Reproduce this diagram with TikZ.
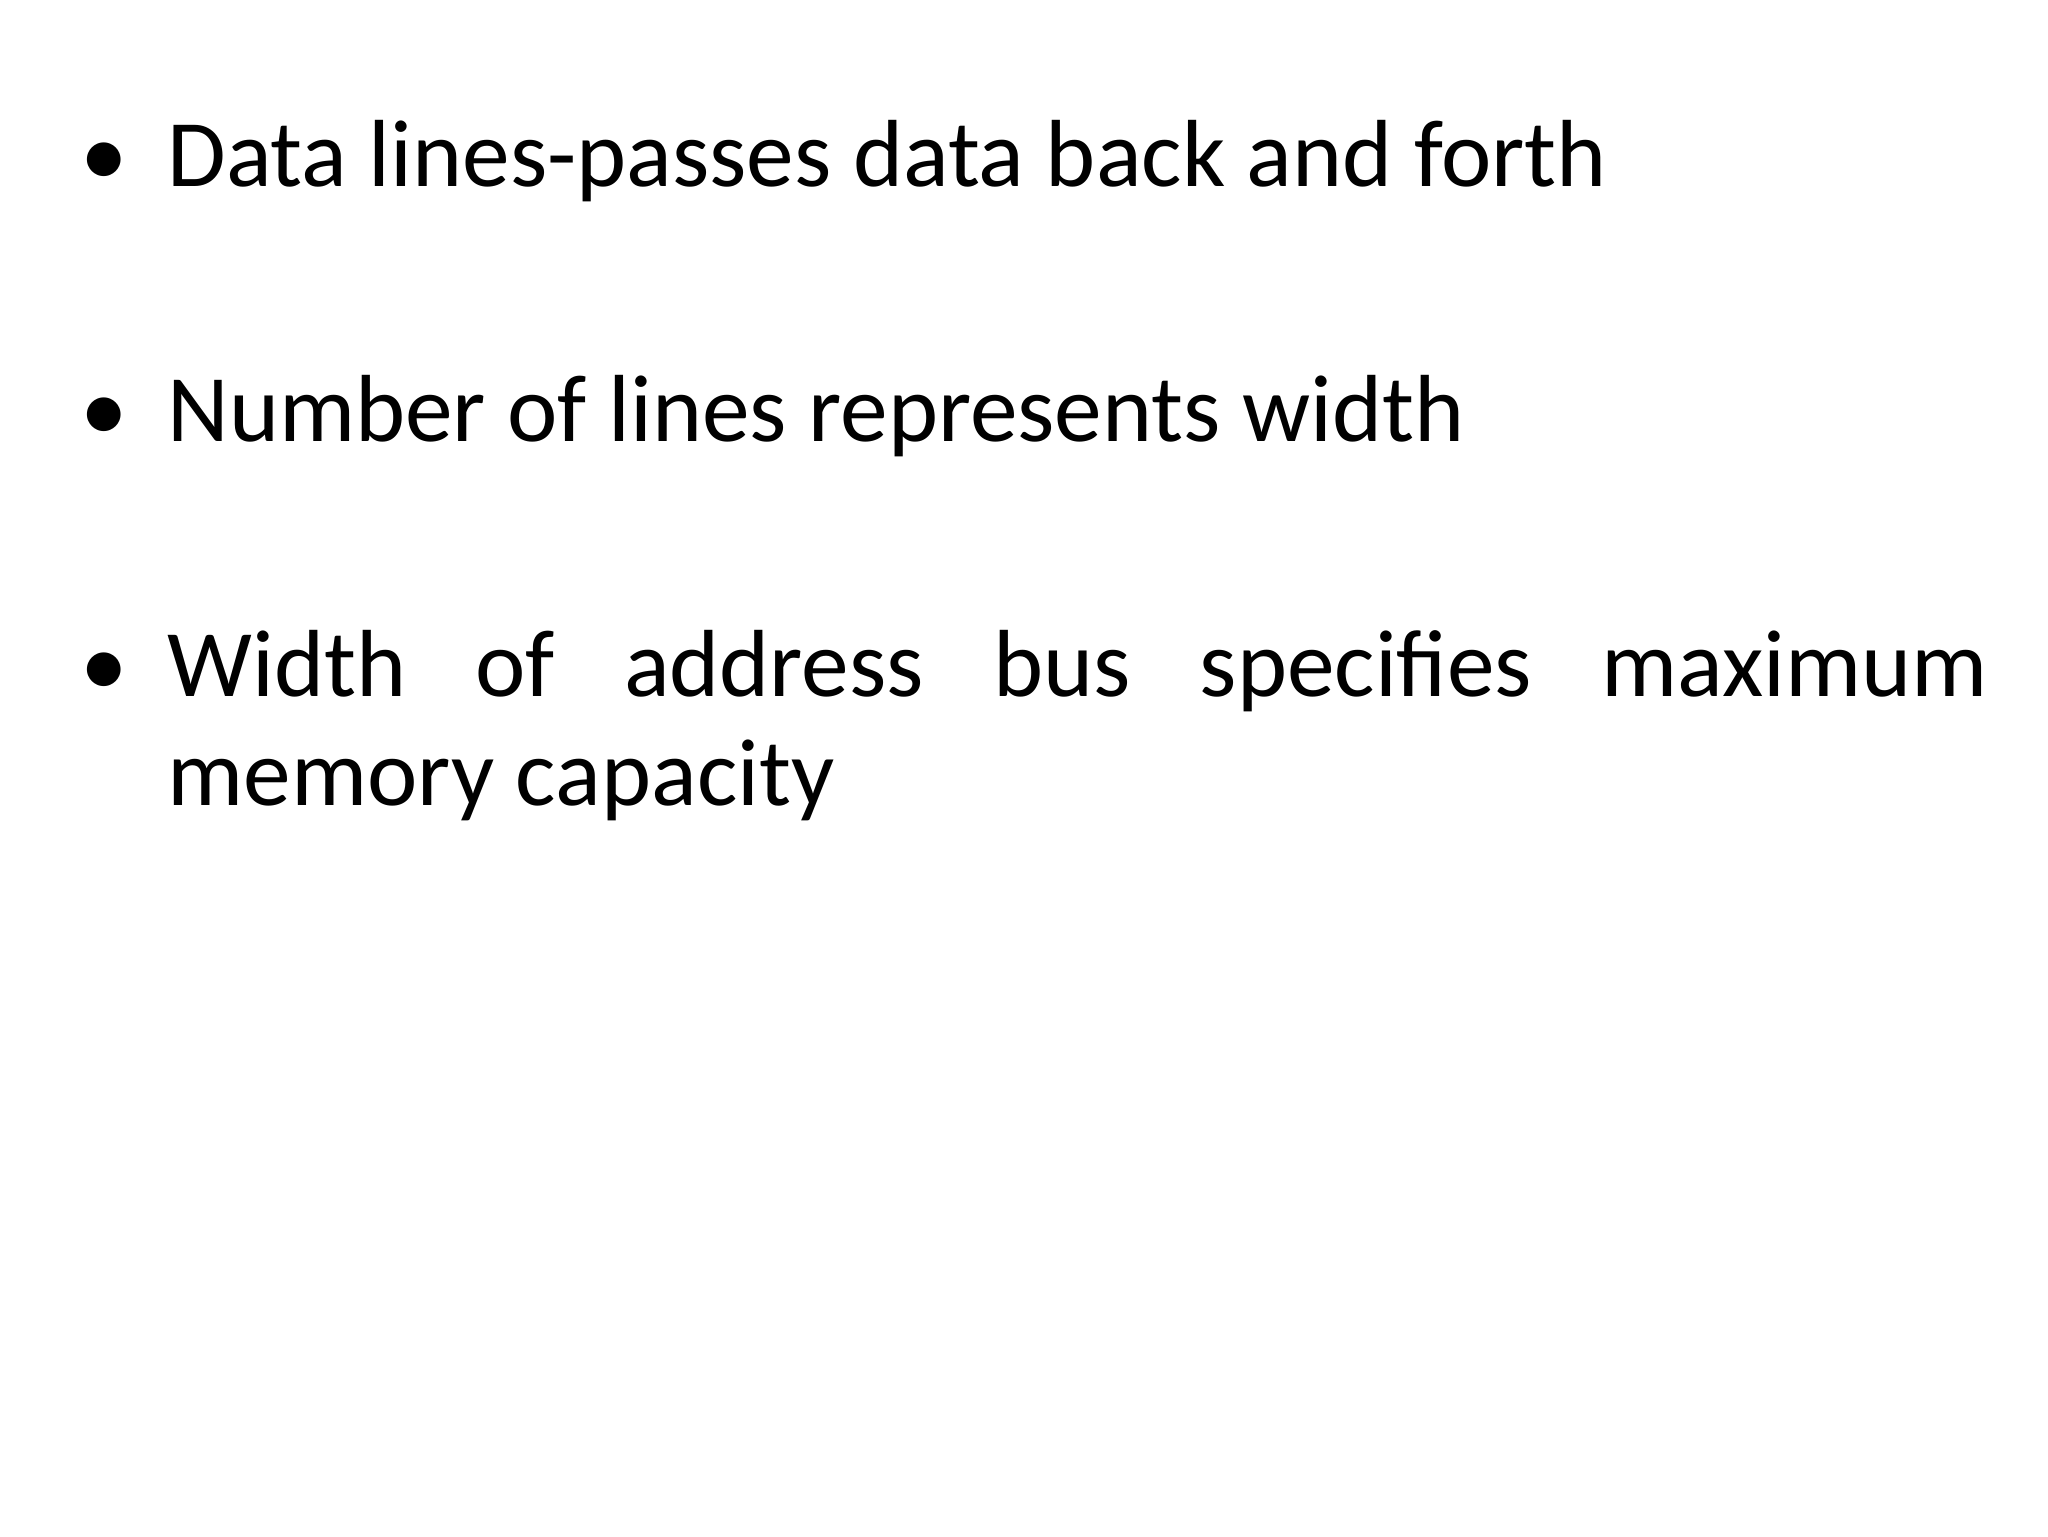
\documentclass[tikz,border=0pt]{standalone}
\usepackage{fontspec}
\setmainfont{Carlito}
\begin{document}
\begin{tikzpicture}[x=1pt,y=-1pt,
  txt/.style={anchor=base west,inner sep=0pt,font=\fontsize{73}{84}\selectfont},
  bul/.style={anchor=base,inner sep=0pt,font=\fontsize{73}{84}\selectfont}]
\fill[white] (0,0) rectangle (1568,1176);
\useasboundingbox (0,0) rectangle (1568,1176);
\node[bul] (b1) at (80,143) {•};
\node[txt] (t1) at (128,143) {Data lines-passes data back and forth};
\node[bul] (b2) at (80,338) {•};
\node[txt] (t2) at (128,338) {Number of lines represents width};
\node[bul] (b3) at (80,533) {•};
\node[txt] (t3) at (128,533) {\hbox to 1394pt{Width\hfill of\hfill address\hfill bus\hfill specifies\hfill maximum}};
\node[txt] (t4) at (128,617) {memory capacity};
\end{tikzpicture}
\end{document}
